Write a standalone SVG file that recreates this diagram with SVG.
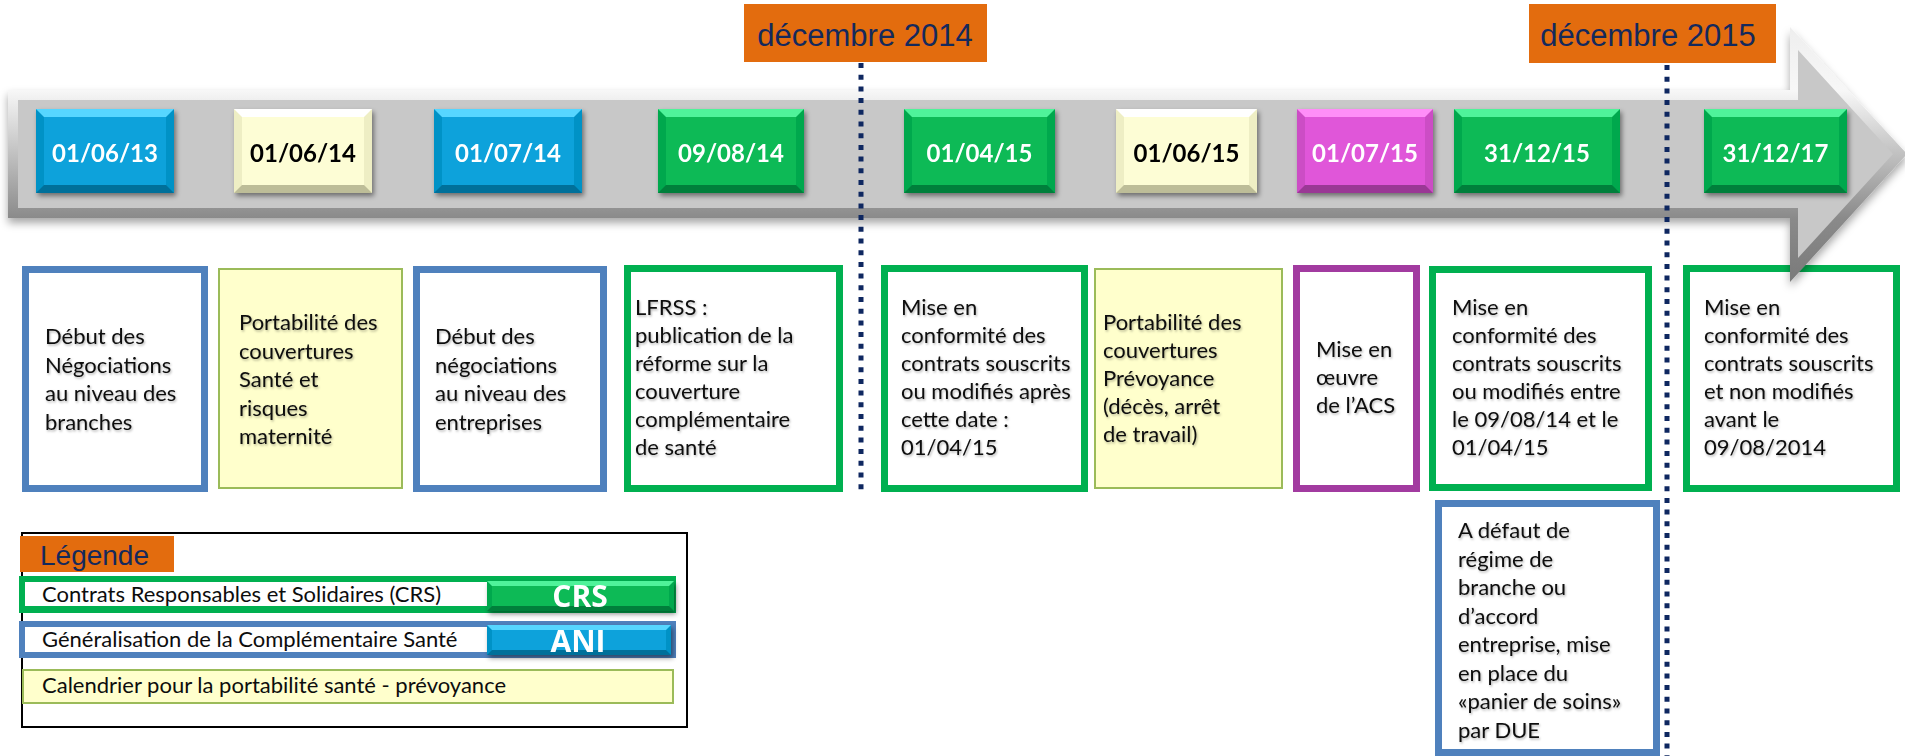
<svg xmlns="http://www.w3.org/2000/svg" width="1905" height="756" viewBox="0 0 1905 756">
<defs>
<style>
.t{font-family:Lato,"Liberation Sans",sans-serif;font-size:22px;fill:#0d0d0d}
.d{font-family:Lato,"Liberation Sans",sans-serif;font-weight:700;font-size:24px;text-anchor:middle;fill:#fff}
.dk{fill:#000}
.big{font-family:"Open Sans",Lato,sans-serif;font-size:30px}
.lg{font-family:Lato,"Liberation Sans",sans-serif;font-size:22px;fill:#0d0d0d}
.ar{font-family:"Liberation Sans",Arial,sans-serif;fill:#14295c}
.bb{fill:#fff;stroke:#4f81bd;stroke-width:7}
.gb{fill:#fff;stroke:#00b050;stroke-width:7}
.pb{fill:#fff;stroke:#a23ba0;stroke-width:7}
.yb{fill:#ffffcc;stroke:#9bbb59;stroke-width:2}
.dash{stroke:#0e2760;stroke-width:5;stroke-dasharray:5 6.7;fill:none}
.bl .s{fill:#0592c6}.bl .h{fill:#56d6ff}.bl .l{fill:#04709a}.bl .m{fill:#07a2db}
.gr .s{fill:#06a84e}.gr .h{fill:#4ff39a}.gr .l{fill:#057f3b}.gr .m{fill:#08ba56}
.ye .s{fill:#eeeec4}.ye .h{fill:#ffffff}.ye .l{fill:#bdbd98}.ye .m{fill:#fdfdd5}
.mg .s{fill:#cc4ec5}.mg .h{fill:#ff8ef8}.mg .l{fill:#9a3795}.mg .m{fill:#e056d9}
.or{fill:#e36c0e}
</style>
<linearGradient id="ag" x1="0" y1="27" x2="0" y2="282" gradientUnits="userSpaceOnUse">
<stop offset="0" stop-color="#eeeeee"/><stop offset="0.25" stop-color="#f7f7f7"/><stop offset="0.75" stop-color="#8a8a8a"/><stop offset="1" stop-color="#7a7a7a"/>
</linearGradient>
<filter id="ds" x="-10%" y="-10%" width="130%" height="140%"><feDropShadow dx="2" dy="3" stdDeviation="2.5" flood-color="#000" flood-opacity="0.45"/></filter>
<filter id="as" x="-5%" y="-10%" width="110%" height="130%"><feDropShadow dx="0" dy="5" stdDeviation="4" flood-color="#000" flood-opacity="0.35"/></filter>
<filter id="ts" x="-5%" y="-5%" width="110%" height="115%"><feDropShadow dx="1" dy="1.5" stdDeviation="1" flood-color="#000" flood-opacity="0.3"/></filter>
</defs>
<rect width="1905" height="756" fill="#fff"/>

<!-- description boxes -->
<g id="box1"><rect class="bb" x="25.5" y="269.5" width="179" height="219"/>
<g class="t" filter="url(#ts)"><text x="45" y="344">Début des</text><text x="45" y="372.5">Négociations</text><text x="45" y="401">au niveau des</text><text x="45" y="429.5">branches</text></g></g>
<g id="box2"><rect class="yb" x="219" y="269" width="183" height="219"/>
<g class="t" filter="url(#ts)"><text x="239" y="330">Portabilité des</text><text x="239" y="358.5">couvertures</text><text x="239" y="387">Santé et</text><text x="239" y="415.5">risques</text><text x="239" y="444">maternité</text></g></g>
<g id="box3"><rect class="bb" x="416.5" y="269.5" width="187" height="219"/>
<g class="t" filter="url(#ts)"><text x="435" y="344">Début des</text><text x="435" y="372.5">négociations</text><text x="435" y="401">au niveau des</text><text x="435" y="429.5">entreprises</text></g></g>
<g id="box4"><rect class="gb" x="627.5" y="268.5" width="212" height="220"/>
<g class="t" filter="url(#ts)"><text x="635" y="315">LFRSS :</text><text x="635" y="343">publication de la</text><text x="635" y="371">réforme sur la</text><text x="635" y="399">couverture</text><text x="635" y="427">complémentaire</text><text x="635" y="455">de santé</text></g></g>
<g id="box5"><rect class="gb" x="884.5" y="268.5" width="200" height="220"/>
<g class="t" filter="url(#ts)"><text x="901" y="315">Mise en</text><text x="901" y="343">conformité des</text><text x="901" y="371">contrats souscrits</text><text x="901" y="399">ou modifiés après</text><text x="901" y="427">cette date :</text><text x="901" y="455">01/04/15</text></g></g>
<g id="box6"><rect class="yb" x="1095" y="269" width="187" height="219"/>
<g class="t" filter="url(#ts)"><text x="1103" y="330">Portabilité des</text><text x="1103" y="358">couvertures</text><text x="1103" y="386">Prévoyance</text><text x="1103" y="414">(décès, arrêt</text><text x="1103" y="442">de travail)</text></g></g>
<g id="box7"><rect class="pb" x="1296.5" y="268.5" width="120" height="220"/>
<g class="t" filter="url(#ts)"><text x="1316" y="357">Mise en</text><text x="1316" y="385">œuvre</text><text x="1316" y="413">de l’ACS</text></g></g>
<g id="box8"><rect class="gb" x="1432.5" y="269.5" width="216" height="218"/>
<g class="t" filter="url(#ts)" style="white-space:pre" xml:space="preserve"><text x="1452" y="315">Mise en</text><text x="1452" y="343">conformité  des</text><text x="1452" y="371">contrats souscrits</text><text x="1452" y="399">ou modifiés entre</text><text x="1452" y="427">le 09/08/14 et le</text><text x="1452" y="455">01/04/15</text></g></g>
<g id="box9"><rect class="gb" x="1686.5" y="268.5" width="210" height="220"/>
<g class="t" filter="url(#ts)" style="white-space:pre" xml:space="preserve"><text x="1704" y="315">Mise en</text><text x="1704" y="343">conformité des</text><text x="1704" y="371">contrats  souscrits</text><text x="1704" y="399">et non modifiés</text><text x="1704" y="427">avant le</text><text x="1704" y="455">09/08/2014</text></g></g>
<g id="box10"><rect class="bb" x="1438.5" y="503.5" width="218" height="249"/>
<g class="t" filter="url(#ts)"><text x="1458" y="538">A défaut de</text><text x="1458" y="566.5">régime de</text><text x="1458" y="595">branche ou</text><text x="1458" y="623.5">d’accord</text><text x="1458" y="652">entreprise, mise</text><text x="1458" y="680.5">en place du</text><text x="1458" y="709">«panier de soins»</text><text x="1458" y="737.5">par DUE</text></g></g>

<!-- timeline arrow -->
<g id="arrow">
<polygon filter="url(#as)" fill="url(#ag)" points="8,90 1790,90 1790,27 1907,154 1790,282 1790,218 8,218"/>
<polygon fill="#c8c8c8" points="18,100 1798,100 1798,50 1893,154 1798,258 1798,208 18,208"/>
</g>

<!-- date boxes -->
<g id="d1" class="bl" filter="url(#ds)"><rect class="s" x="36" y="109" width="138" height="84"/><polygon class="h" points="36,109 174,109 166,117 44,117"/><polygon class="l" points="36,193 174,193 166,185 44,185"/><rect class="m" x="44" y="117" width="122" height="68"/><text class="d" x="105" y="162">01/06/13</text></g>
<g id="d2" class="ye" filter="url(#ds)"><rect class="s" x="234" y="109" width="138" height="84"/><polygon class="h" points="234,109 372,109 364,117 242,117"/><polygon class="l" points="234,193 372,193 364,185 242,185"/><rect class="m" x="242" y="117" width="122" height="68"/><text class="d dk" x="303" y="162">01/06/14</text></g>
<g id="d3" class="bl" filter="url(#ds)"><rect class="s" x="434" y="109" width="148" height="84"/><polygon class="h" points="434,109 582,109 574,117 442,117"/><polygon class="l" points="434,193 582,193 574,185 442,185"/><rect class="m" x="442" y="117" width="132" height="68"/><text class="d" x="508" y="162">01/07/14</text></g>
<g id="d4" class="gr" filter="url(#ds)"><rect class="s" x="658" y="109" width="146" height="84"/><polygon class="h" points="658,109 804,109 796,117 666,117"/><polygon class="l" points="658,193 804,193 796,185 666,185"/><rect class="m" x="666" y="117" width="130" height="68"/><text class="d" x="731" y="162">09/08/14</text></g>
<g id="d5" class="gr" filter="url(#ds)"><rect class="s" x="904" y="109" width="151" height="84"/><polygon class="h" points="904,109 1055,109 1047,117 912,117"/><polygon class="l" points="904,193 1055,193 1047,185 912,185"/><rect class="m" x="912" y="117" width="135" height="68"/><text class="d" x="979.5" y="162">01/04/15</text></g>
<g id="d6" class="ye" filter="url(#ds)"><rect class="s" x="1116" y="109" width="141" height="84"/><polygon class="h" points="1116,109 1257,109 1249,117 1124,117"/><polygon class="l" points="1116,193 1257,193 1249,185 1124,185"/><rect class="m" x="1124" y="117" width="125" height="68"/><text class="d dk" x="1186.5" y="162">01/06/15</text></g>
<g id="d7" class="mg" filter="url(#ds)"><rect class="s" x="1297" y="109" width="136" height="84"/><polygon class="h" points="1297,109 1433,109 1425,117 1305,117"/><polygon class="l" points="1297,193 1433,193 1425,185 1305,185"/><rect class="m" x="1305" y="117" width="120" height="68"/><text class="d" x="1365" y="162">01/07/15</text></g>
<g id="d8" class="gr" filter="url(#ds)"><rect class="s" x="1454" y="109" width="166" height="84"/><polygon class="h" points="1454,109 1620,109 1612,117 1462,117"/><polygon class="l" points="1454,193 1620,193 1612,185 1462,185"/><rect class="m" x="1462" y="117" width="150" height="68"/><text class="d" x="1537" y="162">31/12/15</text></g>
<g id="d9" class="gr" filter="url(#ds)"><rect class="s" x="1704" y="109" width="143" height="84"/><polygon class="h" points="1704,109 1847,109 1839,117 1712,117"/><polygon class="l" points="1704,193 1847,193 1839,185 1712,185"/><rect class="m" x="1712" y="117" width="127" height="68"/><text class="d" x="1775.5" y="162">31/12/17</text></g>

<!-- milestone markers -->
<g id="connectors">
<line class="dash" x1="861" y1="63" x2="861" y2="490"/>
<line class="dash" x1="1667" y1="65" x2="1667" y2="756"/>
</g>
<g id="dec2014"><rect class="or" x="744" y="4" width="243" height="58"/><text class="ar" x="865" y="46" font-size="31" text-anchor="middle">décembre 2014</text></g>
<g id="dec2015"><rect class="or" x="1529" y="4" width="247" height="59"/><text class="ar" x="1648" y="46" font-size="31" text-anchor="middle">décembre 2015</text></g>

<!-- legend -->
<g id="legend">
<rect x="22" y="533" width="665" height="194" fill="none" stroke="#000" stroke-width="2"/>
<rect class="or" x="20" y="536" width="154" height="36"/>
<text class="ar" x="40" y="565" font-size="28">Légende</text>
<rect x="19" y="576" width="657" height="37" fill="#00b050"/>
<rect x="25" y="582" width="466" height="24" fill="#fff"/>
<text class="lg" x="42" y="602">Contrats Responsables et Solidaires (CRS)</text>
<g class="gr" filter="url(#ds)"><rect class="s" x="487" y="581" width="187" height="30"/><polygon class="h" points="487,581 674,581 669,586 492,586"/><polygon class="l" points="487,611 674,611 669,606 492,606"/><rect class="m" x="492" y="586" width="177" height="20"/><text class="d big" x="580" y="607">CRS</text></g>
<rect x="19" y="621" width="657" height="37" fill="#4f81bd"/>
<rect x="25" y="627" width="466" height="25" fill="#fff"/>
<text class="lg" x="42" y="647">Généralisation de la Complémentaire Santé</text>
<g class="bl" filter="url(#ds)"><rect class="s" x="487" y="625" width="184" height="30"/><polygon class="h" points="487,625 671,625 666,630 492,630"/><polygon class="l" points="487,655 671,655 666,650 492,650"/><rect class="m" x="492" y="630" width="174" height="20"/><text class="d big" x="578" y="652">ANI</text></g>
<rect class="yb" x="23" y="670" width="650" height="33"/>
<text class="lg" x="42" y="693">Calendrier pour la portabilité santé - prévoyance</text>
</g>
</svg>
